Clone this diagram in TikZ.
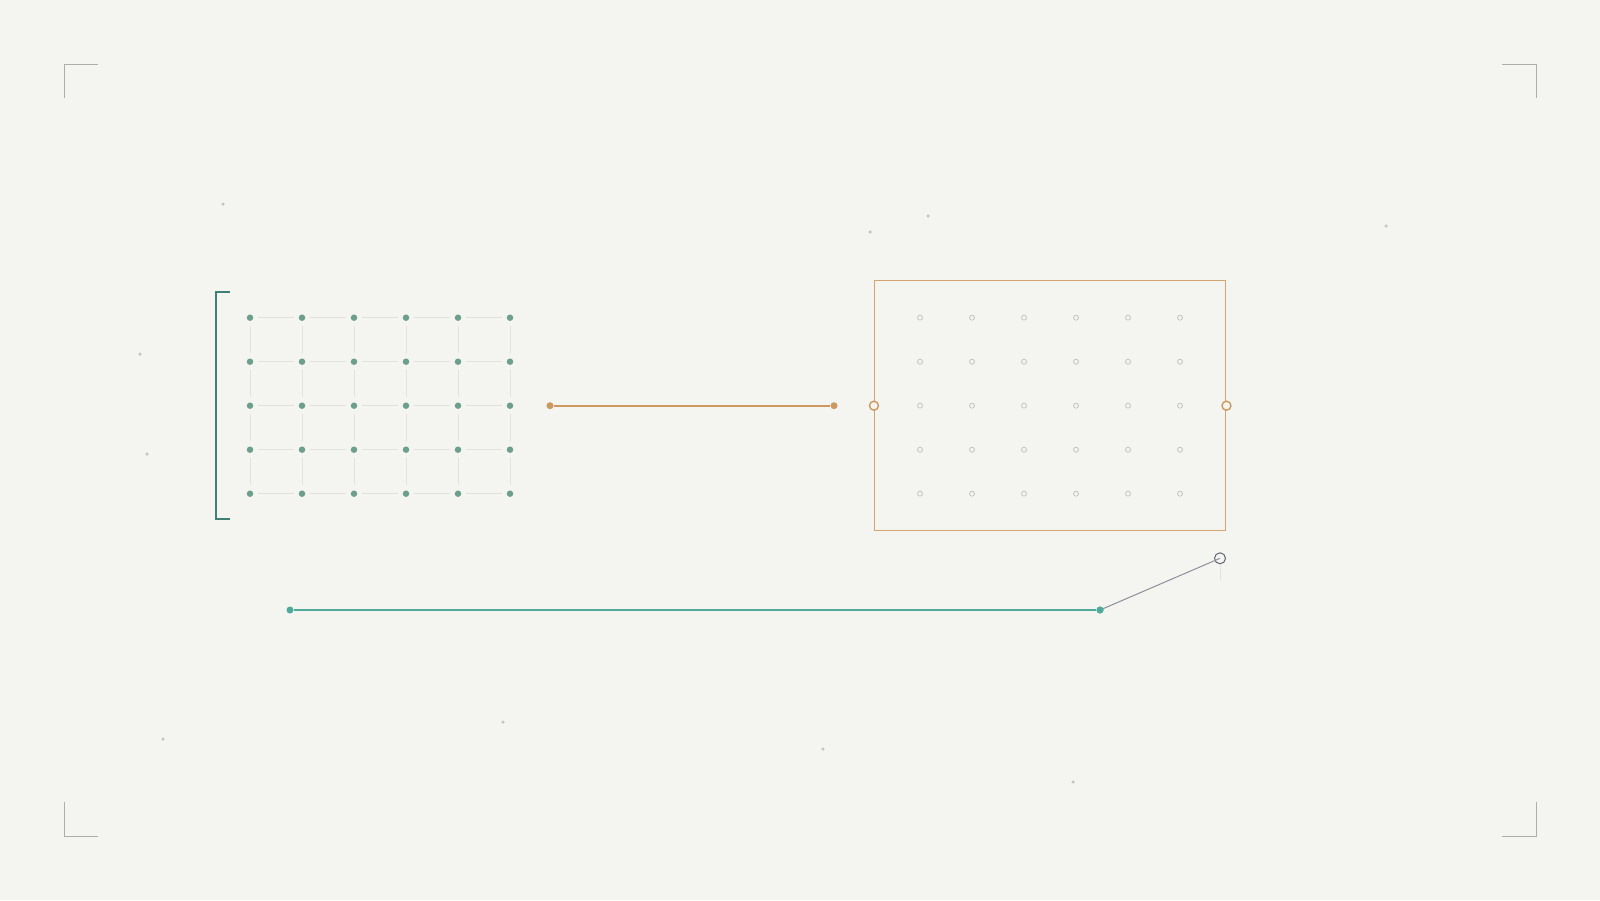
\documentclass[tikz,border=0pt]{standalone}
\usepackage{tikz}
\usetikzlibrary{positioning}

\definecolor{paper}{HTML}{F4F5F0}
\definecolor{sage}{HTML}{6D9F90}
\definecolor{sagedark}{HTML}{3F7F74}
\definecolor{gridline}{HTML}{E2E2DC}
\definecolor{ochre}{HTML}{D4A46E}
\definecolor{ochredark}{HTML}{CC9A60}
\definecolor{pinhole}{HTML}{C6C6C4}
\definecolor{railteal}{HTML}{4FAA9C}
\definecolor{slate}{HTML}{8C9099}
\definecolor{slatedark}{HTML}{5F6575}
\definecolor{cropmark}{HTML}{ADADAA}
\definecolor{speck}{HTML}{C4C4C0}

\tikzset{
  gdot/.style={circle,fill=sage,inner sep=0pt,minimum size=6.5pt},
  hole/.style={circle,draw=pinhole,line width=0.9pt,inner sep=0pt,minimum size=5pt},
  link/.style={draw=gridline,line width=1pt,shorten >=5pt,shorten <=5pt},
  enddot/.style={circle,fill=#1,inner sep=0pt,minimum size=7pt},
  port/.style={circle,draw=ochredark,fill=paper,line width=1.4pt,inner sep=0pt,minimum size=9pt},
  speckdot/.style={circle,fill=speck,inner sep=0pt,minimum size=3.5pt},
  corner/.style={draw=cropmark,line width=1pt}
}

\begin{document}
\begin{tikzpicture}[x=1pt,y=-1pt]

  \fill [paper] (0,0) rectangle (1600,900);
  \useasboundingbox (0,0) rectangle (1600,900);

  % corner marks
  \draw [corner] (64,98) -- (64,64) -- (98,64);
  \draw [corner] (1502,64) -- (1536,64) -- (1536,98);
  \draw [corner] (64,802) -- (64,836) -- (98,836);
  \draw [corner] (1502,836) -- (1536,836) -- (1536,802);

  % scattered specks
  \foreach \sx/\sy [count=\k] in {223/204, 870/232, 928/216, 1386/226, 140/354,
                                  147/454, 163/739, 503/722, 823/749, 1073/782}
    \node [speckdot] (speck\k) at (\sx,\sy) {};

  % left grid
  \foreach \r in {0,...,4}
    \foreach \c in {0,...,5}
      \node [gdot] (g-\r-\c) at (250+52*\c,317.7+44*\r) {};

  \foreach \r in {0,...,4}
    \foreach \c/\nc in {0/1,1/2,2/3,3/4,4/5}
      \path [link] (g-\r-\c) -- (g-\r-\nc);
  \foreach \r/\nr in {0/1,1/2,2/3,3/4}
    \foreach \c in {0,...,5}
      \path [link] (g-\r-\c) -- (g-\nr-\c);

  \draw [sagedark,line width=1.5pt] (230,292) -- (216,292) -- (216,519) -- (230,519);

  % middle link
  \node [enddot=ochredark] (a) at (550,405.7) {};
  \node [enddot=ochredark] (b) at (834,405.7) {};
  \draw [draw=ochredark,line width=1.7pt] (a) -- (b);

  % right frame
  \node [draw=ochre,line width=1.5pt,minimum width=351pt,minimum height=250pt,inner sep=0pt]
    (frame) at (1050.2,405.7) {};
  \foreach \r in {0,...,4}
    \foreach \c in {0,...,5}
      \node [hole] (h-\r-\c) at (920+52*\c,317.7+44*\r) {};
  \node [port] (pw) at (frame.west) {};
  \node [port] (pe) at (frame.east) {};

  % bottom rail
  \node [enddot=railteal] (r0) at (290,610) {};
  \node [enddot=railteal] (r1) at (1100,610) {};
  \node [circle,draw=slatedark,line width=1pt,inner sep=0pt,minimum size=11pt] (probe) at (1220,558.3) {};
  \coordinate (probetail) at (1220,580);
  \draw [draw=gridline,line width=1pt] (probe.south) -- (probetail);
  \draw [draw=railteal,line width=1.4pt] (r0) -- (r1);
  \draw [draw=slate,line width=1pt] (r1.center) -- (probe.center);
  \node [enddot=railteal] at (r1) {};

\end{tikzpicture}
\end{document}
